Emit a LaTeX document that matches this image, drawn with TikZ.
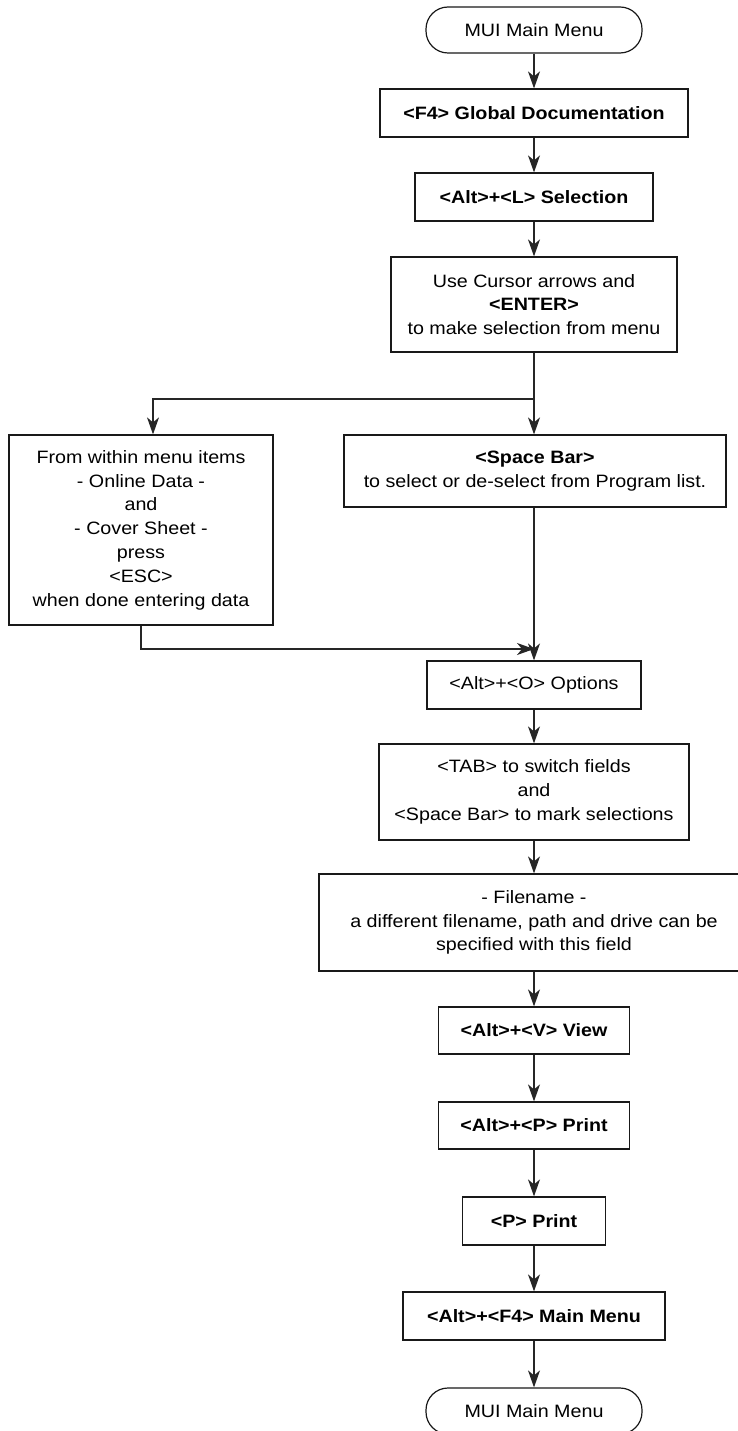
\documentclass[tikz,border=0pt]{standalone}
\usepackage{fontspec}
\setmainfont{Liberation Sans}[FakeStretch=1.1]
\usetikzlibrary{arrows.meta}
\begin{document}
\begin{tikzpicture}[x=1pt,y=-1pt,
  every node/.style={font=\fontsize{17.9}{23.8}\selectfont, align=center, inner sep=0pt, text=black},
  box/.style={draw=black!90, line width=1.2pt, rectangle},
  term/.style={draw=black!90, line width=1.2pt, rectangle, rounded corners=22pt},
  link/.style={draw=black!85, line width=1.3pt},
  flow/.style={link, -{Stealth[length=17pt,width=12pt,inset=5pt]}}]
\useasboundingbox (0,0) rectangle (738,1431);

% steps of the main column
\node[term, minimum width=216pt, minimum height=46pt] (top) at (534,30) {MUI Main Menu};
\node[box, minimum width=308pt, minimum height=48pt] (f4) at (534,113) {\bfseries <F4> Global Documentation};
\node[box, minimum width=238pt, minimum height=48pt] (altl) at (534,197) {\bfseries <Alt>+<L> Selection};
\node[box, minimum width=286pt, minimum height=95pt] (cursor) at (534,304.5)
  {Use Cursor arrows and\\\textbf{<ENTER>}\\to make selection from menu};

% the two branches
\node[box, minimum width=264pt, minimum height=190pt] (left) at (141,530)
  {From within menu items\\- Online Data -\\and\\- Cover Sheet -\\press\\<ESC>\\when done entering data};
\node[box, minimum width=382pt, minimum height=72pt] (space) at (535,471)
  {\textbf{<Space Bar>}\\to select or de-select from Program list.};

% options and output
\node[box, minimum width=214pt, minimum height=48pt] (options) at (534,685) {<Alt>+<O> Options};
\node[box, minimum width=310pt, minimum height=96pt] (tab) at (534,792)
  {<TAB> to switch fields\\and\\<Space Bar> to mark selections};
\node[box, minimum width=430pt, minimum height=97pt] (fname) at (534,922.5)
  {- Filename -\\a different filename, path and drive can be\\specified with this field};
\node[box, minimum width=191pt, minimum height=47pt] (view) at (534,1030.5) {\bfseries <Alt>+<V> View};
\node[box, minimum width=191pt, minimum height=47pt] (altp) at (534,1125.5) {\bfseries <Alt>+<P> Print};
\node[box, minimum width=143pt, minimum height=48pt] (pprint) at (534,1221) {\bfseries <P> Print};
\node[box, minimum width=262pt, minimum height=48pt] (altf4) at (534,1316) {\bfseries <Alt>+<F4> Main Menu};
\node[term, minimum width=216pt, minimum height=46pt] (bottom) at (534,1411) {MUI Main Menu};

% connectors
\draw[flow] (top) -- (f4);
\draw[flow] (f4) -- (altl);
\draw[flow] (altl) -- (cursor);

\coordinate (split) at (534,399);
\coordinate (splitleft) at (153,399);
\coordinate (merge) at (534,649);
\draw[link] (cursor.south) -- (split);
\draw[flow] (split) -- (split |- space.north);
\draw[flow] (split) -- (splitleft) -- (splitleft |- left.north);
\draw[flow] (merge |- space.south) -- (merge |- options.north);
\draw[flow] (left.south) |- (merge);

\draw[flow] (options) -- (tab);
\draw[flow] (tab) -- (tab.south |- fname.north);
\draw[flow] (fname.south -| view) -- (view);
\draw[flow] (view) -- (altp);
\draw[flow] (altp) -- (pprint);
\draw[flow] (pprint) -- (altf4);
\draw[flow] (altf4) -- (bottom);
\end{tikzpicture}
\end{document}
